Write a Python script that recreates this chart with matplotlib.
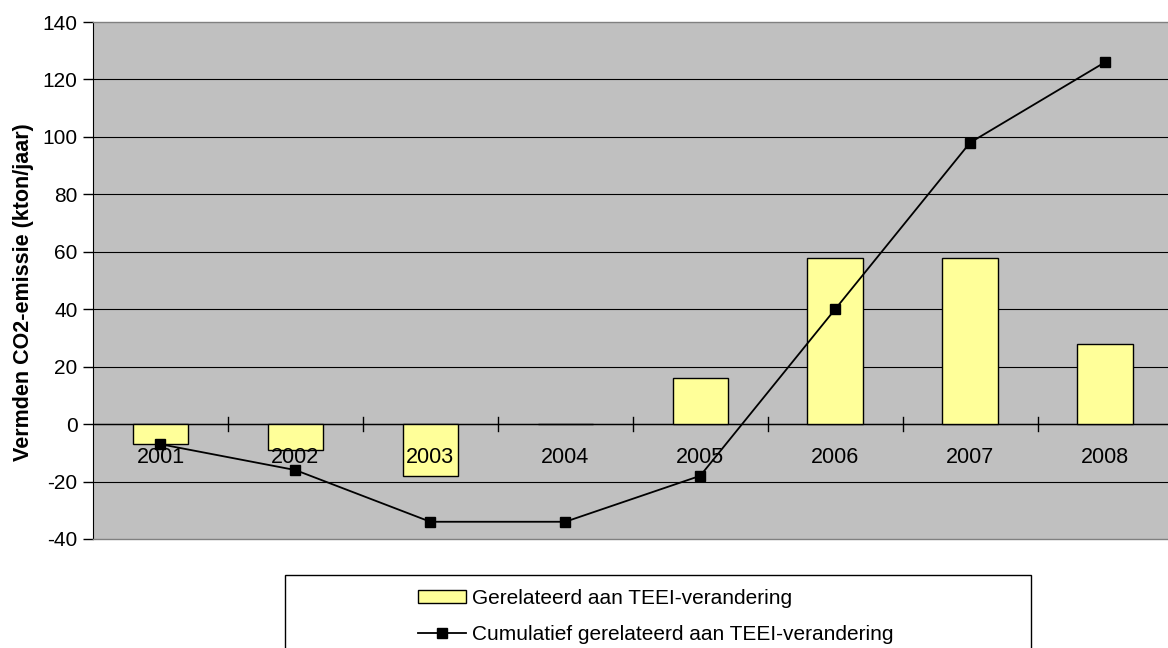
import matplotlib
matplotlib.use("Agg")
import matplotlib.pyplot as plt
from matplotlib.patches import Rectangle
import numpy as np

years = ["2001", "2002", "2003", "2004", "2005", "2006", "2007", "2008"]
teei_change = [-7, -9, -18, 0, 16, 58, 58, 28]
cumulative = [-7, -16, -34, -34, -18, 40, 98, 126]
y_ticks = [-40, -20, 0, 20, 40, 60, 80, 100, 120, 140]

plt.rcParams["font.family"] = ["Liberation Sans", "DejaVu Sans"]

fig = plt.figure(figsize=(11.68, 6.48), dpi=100)
ax = fig.add_axes([93 / 1168, 1 - 539 / 648, (1172.5 - 93) / 1168, 517 / 648])
ax.set_facecolor("#c0c0c0")

x = np.arange(len(years))
bars = ax.bar(x, teei_change, width=0.41, color="#ffff99", edgecolor="black",
              linewidth=1.0, zorder=3, label="Gerelateerd aan TEEI-verandering")
line, = ax.plot(x, cumulative, color="black", linewidth=1.3, marker="s",
                markersize=7, zorder=4,
                label="Cumulatief gerelateerd aan TEEI-verandering")

ax.set_xlim(-0.5, len(years) - 0.5)
ax.set_ylim(-40, 140)
ax.set_yticks(y_ticks)
ax.set_yticklabels([str(v) for v in y_ticks], fontsize=15)
ax.tick_params(axis="y", direction="out", length=7, width=1, pad=4)

for v in y_ticks[1:-1]:
    ax.axhline(v, color="black", linewidth=0.8, zorder=1)

# category axis drawn at zero with boundary ticks crossing it
ax.axhline(0, color="black", linewidth=1.0, zorder=2)
for b in np.arange(0.5, len(years) - 0.5, 1.0):
    ax.plot([b, b], [-2.5, 2.5], color="black", linewidth=1.0, zorder=2)
ax.set_xticks([])
for xi, yr in zip(x, years):
    ax.text(xi, -7.8, yr, ha="center", va="top", fontsize=15.5, zorder=5)

ax.spines["left"].set_color("black")
for s in ("top", "right", "bottom"):
    ax.spines[s].set_color("#808080")
    ax.spines[s].set_linewidth(1.0)

ax.set_ylabel("Vermden CO2-emissie (kton/jaar)", fontsize=15.5, fontweight="bold")
ax.yaxis.set_label_coords(-0.055, 0.478)

# legend box below the plot
fig.patches.append(Rectangle((285 / 1168, 1 - 700 / 648), 746 / 1168, 125 / 648,
                             transform=fig.transFigure, facecolor="white",
                             edgecolor="black", linewidth=1.0))
fig.legend(handles=[bars, line], loc="upper left",
           bbox_to_anchor=(418 / 1168, 1 - 589 / 648), frameon=False,
           fontsize=15, handlelength=2.3, handleheight=0.6, handletextpad=0.3,
           labelspacing=0.8, borderaxespad=0, borderpad=0)

fig.savefig("out.png", dpi=100)
